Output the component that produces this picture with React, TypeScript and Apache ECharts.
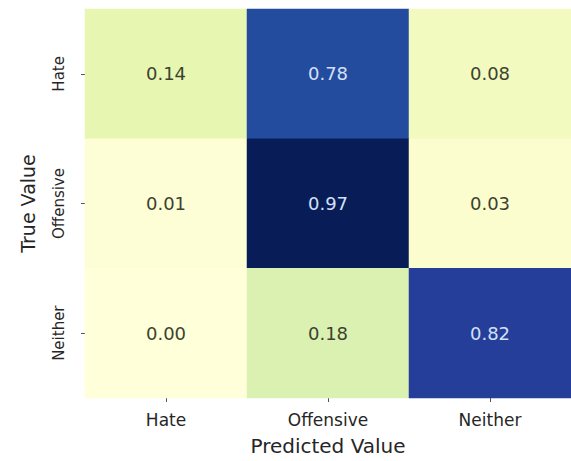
import React, { useEffect, useRef } from "react";
import * as echarts from "echarts";

const xCategories = ["Hate", "Offensive", "Neither"];
const yCategories = ["Hate", "Offensive", "Neither"];
// rows = true value, columns = predicted value
const matrix: number[][] = [
  [0.14, 0.78, 0.08],
  [0.01, 0.97, 0.03],
  [0.0, 0.18, 0.82],
];
const colorStops = [
  "#ffffd9", "#edf8b1", "#c7e9b4", "#7fcdbb", "#41b6c4",
  "#1d91c0", "#225ea8", "#253494", "#081d58",
];

export default function App() {
  const ref = useRef<HTMLDivElement>(null);
  useEffect(() => {
    document.body.style.margin = "0";
    const chart = echarts.init(ref.current!, null, { renderer: "svg" });
    const data: any[] = [];
    matrix.forEach((row, yi) =>
      row.forEach((v, xi) => {
        data.push({
          value: [xi, yi, v],
          label: { color: v > 0.5 ? "#d4e0f6" : "#3c4230" },
        });
      })
    );
    const font = "DejaVu Sans";
    chart.setOption({
      animation: false,
      backgroundColor: "#ffffff",
      grid: { left: 85, right: 0, top: 9, bottom: 55 },
      xAxis: {
        type: "category",
        data: xCategories,
        name: "Predicted Value",
        nameLocation: "middle",
        nameGap: 38,
        nameTextStyle: { fontFamily: font, fontSize: 20, color: "#262626" },
        axisLine: { show: false },
        axisTick: { show: true, alignWithLabel: true, length: 4, lineStyle: { color: "#555" } },
        axisLabel: { fontFamily: font, fontSize: 17, color: "#262626", margin: 13 },
        splitLine: { show: false },
      },
      yAxis: {
        type: "category",
        data: yCategories,
        inverse: true,
        name: "True Value",
        nameLocation: "middle",
        nameRotate: 90,
        nameGap: 48,
        nameTextStyle: { fontFamily: font, fontSize: 19, color: "#262626" },
        axisLine: { show: false },
        axisTick: { show: true, alignWithLabel: true, length: 4, lineStyle: { color: "#555" } },
        axisLabel: { fontFamily: font, fontSize: 15, color: "#262626", rotate: 90, margin: 19 },
        splitLine: { show: false },
      },
      visualMap: {
        show: false,
        type: "continuous",
        min: 0,
        max: 0.97,
        dimension: 2,
        inRange: { color: colorStops },
      },
      series: [
        {
          type: "heatmap",
          data,
          label: {
            show: true,
            fontFamily: font,
            fontSize: 18,
            formatter: (p: any) => p.value[2].toFixed(2),
          },
          itemStyle: { borderWidth: 0 },
          emphasis: { disabled: true },
        },
      ],
    });
    return () => chart.dispose();
  }, []);
  return (
    <div
      ref={ref}
      style={{ width: 571, height: 461, position: "absolute", left: 0, top: 0 }}
    />
  );
}
